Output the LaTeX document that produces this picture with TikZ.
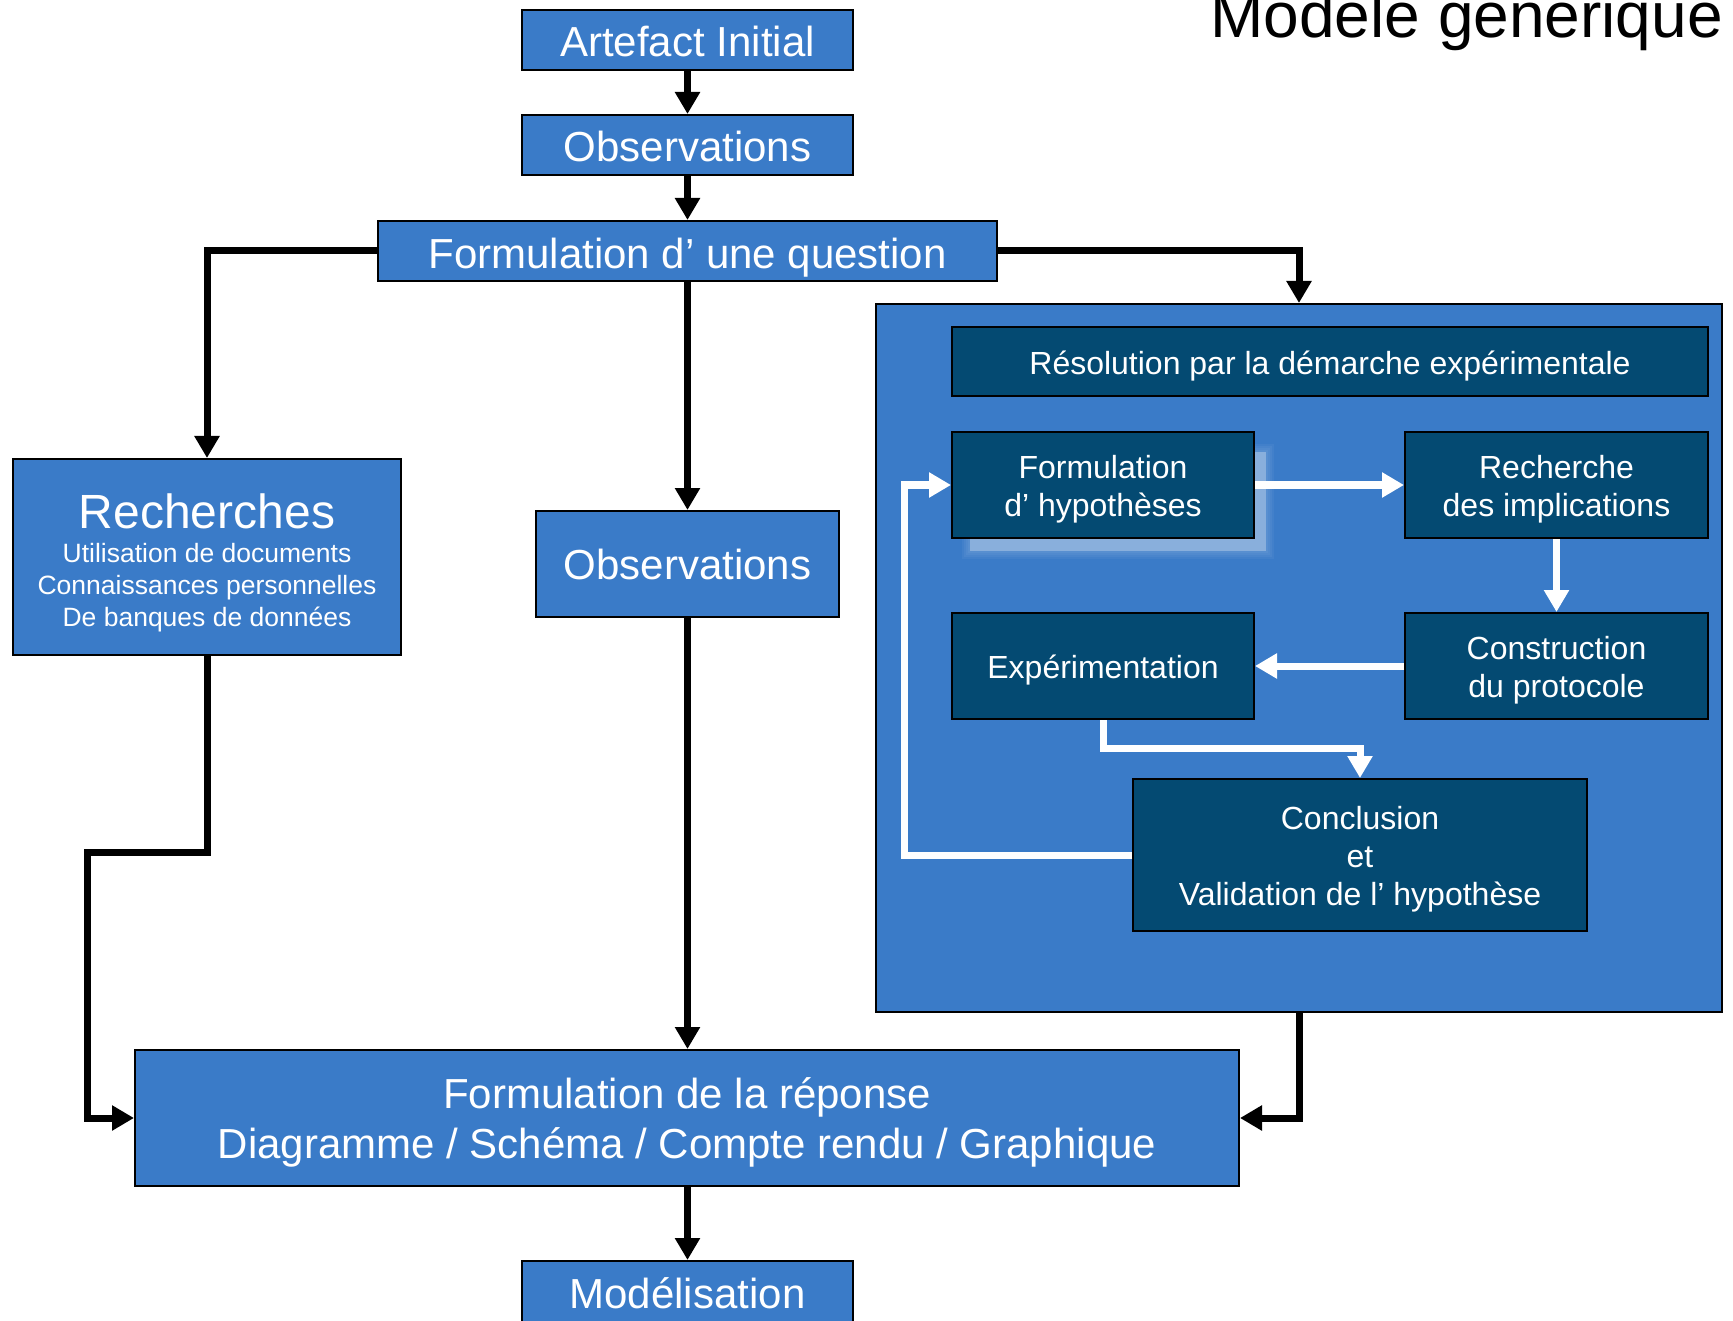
\documentclass[tikz,border=0pt]{standalone}
\usepackage{fontspec}
\setmainfont{Liberation Sans}
\usetikzlibrary{arrows.meta}
\definecolor{myblue}{RGB}{58,123,200}
\definecolor{mydark}{RGB}{4,74,114}
\tikzset{
  bluebox/.style={draw=black, line width=2pt, fill=myblue, text=white, inner sep=0pt, align=center,
    font=\fontsize{42}{50}\selectfont},
  darkbox/.style={draw=black, line width=2pt, fill=mydark, text=white, inner sep=0pt, align=center,
    font=\fontsize{32}{38}\selectfont},
  darktext/.style={text=white, inner sep=0pt, align=center, font=\fontsize{32}{38}\selectfont},
  bluetext/.style={text=white, inner sep=0pt, align=center, font=\fontsize{42}{50}\selectfont},
  oneline/.style={text height=#1, text depth=0pt},
  blk/.style={line width=7pt, black, -{Triangle[width=24pt,length=22pt]}},
  wht/.style={line width=7pt, white, -{Triangle[width=24pt,length=22pt]}},
}
\begin{document}
\begin{tikzpicture}[x=1pt,y=-1pt]
\useasboundingbox (0,0) rectangle (1733,1321);
% title
\node[anchor=base east, inner sep=0pt, font=\fontsize{64}{70}\selectfont] (title) at (1723,38) {Modèle générique};
% top column
\node[bluebox, oneline=34pt, minimum width=331pt, minimum height=60pt] (art) at (687.5,40) {Artefact Initial};
\node[bluebox, oneline=34pt, minimum width=331pt, minimum height=60pt] (obs1) at (687.5,145) {Observations};
\node[bluebox, oneline=35pt, minimum width=619pt, minimum height=60pt] (quest) at (687.5,251) {Formulation d’ une question};
% recherches
\node[bluebox, minimum width=388pt, minimum height=196pt] (rech) at (207,557) {};
\node[text=white, align=center, inner sep=0pt, font=\fontsize{26.5}{32}\selectfont] (rechtxt) at (207,563)
  {{\fontsize{48}{56}\selectfont Recherches}\\[2pt] Utilisation de documents\\ Connaissances personnelles\\ De banques de données};
% observations 2
\node[bluebox, oneline=31pt, minimum width=303pt, minimum height=106pt] (obs2) at (687.5,564) {Observations};
% big box
\node[draw=black, line width=2pt, fill=myblue, minimum width=846pt, minimum height=708pt, inner sep=0pt] (big) at (1299,658) {};
\node[darkbox, oneline=27pt, minimum width=756pt, minimum height=69pt] (res) at (1330,361.5) {Résolution par la démarche expérimentale};
% glow behind hyp
\fill[white, opacity=0.3] (970,452) rectangle (1266,551);
\foreach \i in {1,...,4}{
  \fill[white, opacity=0.045] (970-\i*2,452-\i*2) rectangle (1266+\i*2,551+\i*2);
}
\node[darkbox, minimum width=302pt, minimum height=106pt] (hyp) at (1103,485) {};
\node[darktext] (hypt) at (1103,489.5) {Formulation\\d’ hypothèses};
\node[darkbox, minimum width=303pt, minimum height=106pt] (impl) at (1556.5,485) {};
\node[darktext] (implt) at (1556.5,489.5) {Recherche\\des implications};
\node[darkbox, oneline=24pt, minimum width=302pt, minimum height=106pt] (exp) at (1103,666) {Expérimentation};
\node[darkbox, minimum width=303pt, minimum height=106pt] (cons) at (1556.5,666) {};
\node[darktext] (const) at (1556.5,670.5) {Construction\\du protocole};
\node[darkbox, minimum width=454pt, minimum height=152pt] (conc) at (1360,855) {};
\node[darktext] (conct) at (1360,859.5) {Conclusion\\et\\Validation de l’ hypothèse};
% response and modelling
\node[bluebox, minimum width=1104pt, minimum height=136pt] (rep) at (687,1118) {};
\node[bluetext] (rept) at (687,1122.5) {Formulation de la réponse\\Diagramme / Schéma / Compte rendu / Graphique};
\node[bluebox, oneline=30pt, minimum width=331pt, minimum height=64pt] (mod) at (687.5,1293) {Modélisation};
% black connectors
\coordinate (r1) at (207,852);
\coordinate (r2) at (87,852);
\draw[blk] (art.south) -- (obs1.north);
\draw[blk] (obs1.south) -- (quest.north);
\draw[blk] (quest.west) -| (rech.north);
\draw[blk] (quest.east) -| (big.north);
\draw[blk] (quest.south) -- (obs2.north);
\draw[blk] (rech.south) -- (r1) -- (r2) |- (rep.west);
\draw[blk] (obs2.south) -- (obs2.south |- rep.north);
\draw[blk] (big.south) |- (rep.east);
\draw[blk] (rep.south -| mod.north) -- (mod.north);
% white connectors
\coordinate (ec) at (1360,748);
\coordinate (cl) at (904,855);
\draw[wht] (hyp.east) -- (impl.west);
\draw[wht] (impl.south) -- (cons.north);
\draw[wht] (cons.west) -- (exp.east);
\draw[wht] (exp.south) |- (ec) -- (conc.north);
\draw[wht] (conc.west) -- (cl) |- (hyp.west);
\end{tikzpicture}
\end{document}
